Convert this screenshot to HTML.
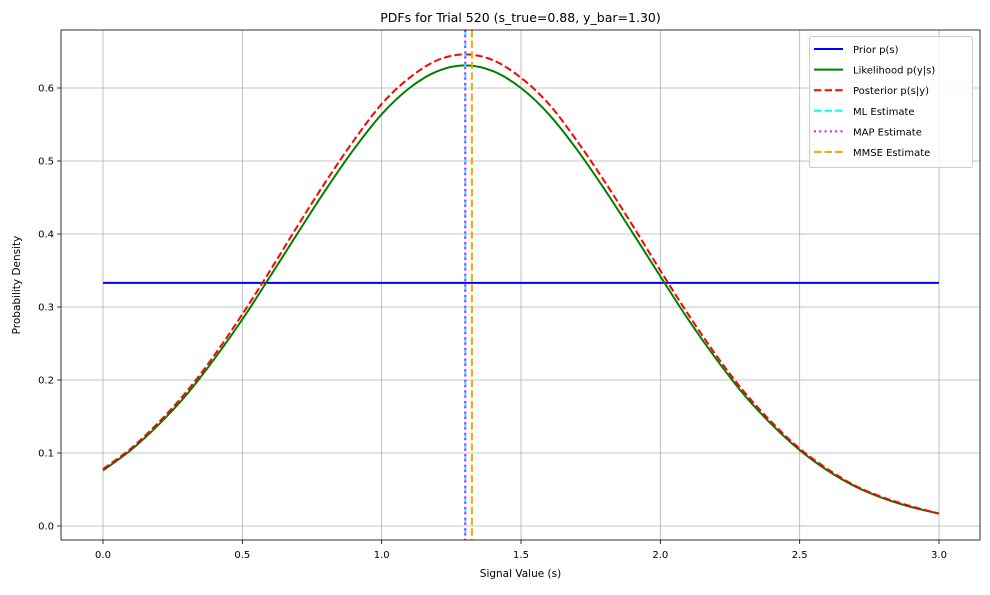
<!DOCTYPE html>
<html><head><meta charset="utf-8"><style>
body{margin:0;background:#fff;font-family:"Liberation Sans","DejaVu Sans",sans-serif;}
svg text{font-family:"DejaVu Sans","Liberation Sans",sans-serif;}
</style></head><body>
<svg id="chart" width="990" height="590"></svg>
<script>
const xs = [0,0.1,0.2,0.3,0.4,0.5,0.6,0.7,0.8,0.9,1.0,1.1,1.2,1.3,1.4,1.5,1.6,1.7,1.8,1.9,2.0,2.1,2.2,2.3,2.4,2.5,2.6,2.7,2.8,2.9,3.0];
const likelihood = [0.076,0.104,0.139,0.180,0.229,0.283,0.342,0.402,0.461,0.516,0.564,0.600,0.623,0.631,0.623,0.600,0.564,0.516,0.461,0.402,0.342,0.283,0.229,0.180,0.139,0.104,0.076,0.054,0.038,0.026,0.017];
const posterior = [0.078,0.106,0.142,0.184,0.234,0.290,0.350,0.412,0.472,0.528,0.578,0.614,0.638,0.646,0.638,0.614,0.578,0.528,0.472,0.412,0.350,0.290,0.234,0.184,0.142,0.106,0.078,0.055,0.039,0.027,0.017];
const priorValue = 0.333;
const priorRange = [0,3];
const mlEst = 1.30, mapEst = 1.30, mmseEst = 1.324;
const xTicks = [0,0.5,1.0,1.5,2.0,2.5,3.0];
const xTickLabels = ["0.0","0.5","1.0","1.5","2.0","2.5","3.0"];
const yTicks = [0,0.1,0.2,0.3,0.4,0.5,0.6];
const yTickLabels = ["0.0","0.1","0.2","0.3","0.4","0.5","0.6"];

const L=61,R=980,T=30,B=540;
const sx=v=>103+v*278.67;
const sy=v=>526-v*730;
const svg=document.getElementById('chart');
const NS='http://www.w3.org/2000/svg';
function mk(tag,attrs,parent){const e=document.createElementNS(NS,tag);for(const k in attrs)e.setAttribute(k,attrs[k]);(parent||svg).appendChild(e);return e;}
function smooth(xv,yv){const p=xv.map((x,i)=>[sx(x),sy(yv[i])]);let d='M'+p[0][0]+','+p[0][1];
for(let i=0;i<p.length-1;i++){const p0=p[i-1]||p[i],p1=p[i],p2=p[i+1],p3=p[i+2]||p2;
d+=` C${p1[0]+(p2[0]-p0[0])/6},${p1[1]+(p2[1]-p0[1])/6} ${p2[0]-(p3[0]-p1[0])/6},${p2[1]-(p3[1]-p1[1])/6} ${p2[0]},${p2[1]}`;}return d;}

xTicks.forEach((t,i)=>{
 let g=mk('line',{x1:sx(t),x2:sx(t),y1:T,y2:B,stroke:'#b0b0b0','stroke-width':0.8});
 
 mk('line',{x1:sx(t),x2:sx(t),y1:B,y2:B+4,stroke:'#000','stroke-width':0.8});
 let tx=mk('text',{x:sx(t),y:B+18,'font-size':10,'text-anchor':'middle'});tx.textContent=xTickLabels[i];
 
});
yTicks.forEach((t,i)=>{
 let g=mk('line',{x1:L,x2:R,y1:sy(t),y2:sy(t),stroke:'#b0b0b0','stroke-width':0.8});
 
 mk('line',{x1:L-4,x2:L,y1:sy(t),y2:sy(t),stroke:'#000','stroke-width':0.8});
 let tx=mk('text',{x:L-7,y:sy(t)+3.5,'font-size':10,'text-anchor':'end'});tx.textContent=yTickLabels[i];
 
});
let pr=mk('line',{x1:sx(priorRange[0]),x2:sx(priorRange[1]),y1:sy(priorValue),y2:sy(priorValue),stroke:'#0000ff','stroke-width':2});

let lk=mk('path',{d:smooth(xs,likelihood),fill:'none',stroke:'#008000','stroke-width':2});

let po=mk('path',{d:smooth(xs,posterior),fill:'none',stroke:'#ff0000','stroke-width':2,'stroke-dasharray':'7.4,3.2'});

let ml=mk('line',{x1:sx(mlEst),x2:sx(mlEst),y1:T,y2:B,stroke:'#00ffff','stroke-width':2,'stroke-dasharray':'7.4,3.2'});

let mp=mk('line',{x1:sx(mapEst),x2:sx(mapEst),y1:T,y2:B,stroke:'#ff00ff','stroke-width':2,'stroke-dasharray':'2,3.3'});

let mm=mk('line',{x1:sx(mmseEst),x2:sx(mmseEst),y1:T,y2:B,stroke:'#ffa500','stroke-width':2,'stroke-dasharray':'7.4,3.2'});

let fr=mk('rect',{x:L,y:T,width:R-L,height:B-T,fill:'none',stroke:'#000','stroke-width':0.8});

let ti=mk('text',{x:(L+R)/2,y:22,'font-size':12.5,'text-anchor':'middle'});ti.textContent='PDFs for Trial 520 (s_true=0.88, y_bar=1.30)';

let xt=mk('text',{x:(L+R)/2,y:577,'font-size':10.5,'text-anchor':'middle'});xt.textContent='Signal Value (s)';

let yt=mk('text',{x:0,y:0,'font-size':10.5,'text-anchor':'middle',transform:`translate(20,${(T+B)/2}) rotate(-90)`});yt.textContent='Probability Density';

const lg=mk('g',{});

mk('rect',{x:809.5,y:36.5,width:163,height:131,rx:2,fill:'#fff','fill-opacity':0.8,stroke:'#ccc','stroke-width':1},lg);
const items=[['Prior p(s)','#0000ff',''],['Likelihood p(y|s)','#008000',''],['Posterior p(s|y)','#ff0000','7.4,3.2'],['ML Estimate','#00ffff','7.4,3.2'],['MAP Estimate','#ff00ff','2,3.3'],['MMSE Estimate','#ffa500','7.4,3.2']];
items.forEach((it,i)=>{const y=49+i*20.6;
 const e=mk('g',{},lg);
 
 const a={x1:814,x2:843,y1:y,y2:y,stroke:it[1],'stroke-width':2};if(it[2])a['stroke-dasharray']=it[2];
 mk('line',a,e);
 const t=mk('text',{x:853,y:y+4,'font-size':10},e);t.textContent=it[0];
});
</script>
</body></html>
